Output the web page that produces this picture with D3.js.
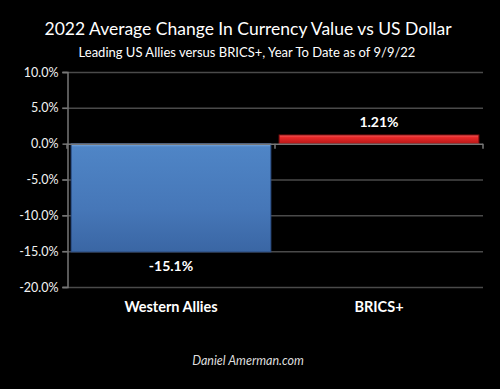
<!DOCTYPE html>
<html>
<head>
<meta charset="utf-8">
<title>Currency Value vs US Dollar</title>
<script src="https://cdn.jsdelivr.net/npm/d3@7"></script>
<style>
body { margin:0; background:#000; }
svg { display:block; font-family: Lato, "Open Sans", sans-serif; }
</style>
</head>
<body>
<svg id="chart" width="500" height="389"></svg>
<script>
var categories = ["Western Allies", "BRICS+"];
var values = [-15.1, 1.21];
var valueLabels = ["-15.1%", "1.21%"];
var yTicks = [10, 5, 0, -5, -10, -15, -20];

var svg = d3.select("#chart");
svg.append("rect").attr("width", 500).attr("height", 389).attr("fill", "#000");

var x = d3.scaleBand().domain(categories).range([67, 483]).paddingInner(0.04).paddingOuter(0.02);
var y = d3.scaleLinear().domain([-20, 10]).range([287, 72]);

var defs = svg.append("defs");
var gb = defs.append("linearGradient").attr("id", "gBlue").attr("x1", 0).attr("x2", 0).attr("y1", 0).attr("y2", 1);
gb.append("stop").attr("offset", "0%").attr("stop-color", "#8ab8ea");
gb.append("stop").attr("offset", "3%").attr("stop-color", "#4f85c6");
gb.append("stop").attr("offset", "60%").attr("stop-color", "#4677b8");
gb.append("stop").attr("offset", "100%").attr("stop-color", "#3a66a4");
var gr = defs.append("linearGradient").attr("id", "gRed").attr("x1", 0).attr("x2", 0).attr("y1", 0).attr("y2", 1);
gr.append("stop").attr("offset", "0%").attr("stop-color", "#f06060");
gr.append("stop").attr("offset", "30%").attr("stop-color", "#e82828");
gr.append("stop").attr("offset", "100%").attr("stop-color", "#b81818");

// gridlines
svg.append("g").selectAll("line").data(yTicks).join("line")
  .attr("x1", 62).attr("x2", 483)
  .attr("y1", function(d){ return y(d) + 0.5; }).attr("y2", function(d){ return y(d) + 0.5; })
  .attr("stroke", function(d){ return d === 0 ? "none" : "#4a4a4a"; }).attr("stroke-width", 1.5);

// y axis
var yAxis = d3.axisLeft(y).tickValues(yTicks).tickSize(5).tickFormat(function(d){ return d.toFixed(1) + "%"; });
var ya = svg.append("g").attr("transform", "translate(67.5,0)").call(yAxis);
ya.select(".domain").attr("stroke", "#777").attr("stroke-width", 1.5);
ya.selectAll(".tick line").attr("stroke", "#777").attr("stroke-width", 1.5);
ya.selectAll(".tick text").attr("fill", "#f2f2f2").attr("font-size", 12.5).attr("x", -9)
  .attr("font-family", "Lato, sans-serif");

// bars
svg.append("g").selectAll("rect").data(values).join("rect")
  .attr("x", function(d, i){ return x(categories[i]); })
  .attr("width", x.bandwidth())
  .attr("y", function(d){ return y(Math.max(0, d)); })
  .attr("height", function(d){ return Math.abs(y(d) - y(0)); })
  .attr("fill", function(d){ return d < 0 ? "url(#gBlue)" : "url(#gRed)"; })
  .attr("stroke", function(d){ return d < 0 ? "#2d5088" : "#8a1010"; })
  .attr("stroke-width", 1);

// zero axis with category ticks
var zero = svg.append("g");
zero.append("line").attr("x1", 67).attr("x2", 483).attr("y1", y(0) + 0.5).attr("y2", y(0) + 0.5)
  .attr("stroke", "#777").attr("stroke-width", 1.5);
var bounds = [67, x(categories[1]) - x.step() * x.paddingInner() / 2, 483];
zero.selectAll("line.t").data(bounds).join("line").attr("class", "t")
  .attr("x1", function(d){ return d; }).attr("x2", function(d){ return d; })
  .attr("y1", y(0)).attr("y2", y(0) + 5).attr("stroke", "#777").attr("stroke-width", 1.5);

// value labels
svg.append("g").selectAll("text").data(values).join("text")
  .attr("x", function(d, i){ return x(categories[i]) + x.bandwidth() / 2; })
  .attr("y", function(d){ return d < 0 ? y(d) + 19 : y(d) - 8; })
  .attr("text-anchor", "middle").attr("fill", "#fff").attr("font-weight", "bold").attr("font-size", 14)
  .text(function(d, i){ return valueLabels[i]; });

// category labels
svg.append("g").selectAll("text").data(categories).join("text")
  .attr("x", function(d){ return x(d) + x.bandwidth() / 2; })
  .attr("y", 312).attr("text-anchor", "middle").attr("fill", "#fff")
  .attr("font-weight", "bold").attr("font-size", 14.5).text(function(d){ return d; });

// titles
svg.append("text").attr("x", 248).attr("y", 35).attr("text-anchor", "middle").attr("fill", "#fff")
  .attr("font-size", 17.5).text("2022 Average Change In Currency Value vs US Dollar");
svg.append("text").attr("x", 247).attr("y", 57).attr("text-anchor", "middle").attr("fill", "#fff")
  .attr("font-size", 13).text("Leading US Allies versus BRICS+, Year To Date as of 9/9/22");
svg.append("text").attr("x", 248).attr("y", 365).attr("text-anchor", "middle").attr("fill", "#ddd")
  .attr("font-size", 12.5).attr("font-style", "italic").text("Daniel Amerman.com");
</script>
</body>
</html>
